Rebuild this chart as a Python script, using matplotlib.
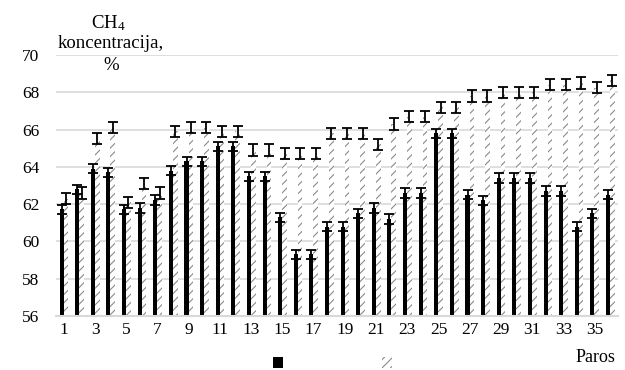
import matplotlib
matplotlib.use("Agg")
import matplotlib.pyplot as plt
import numpy as np

plt.rcParams['font.family'] = ['Liberation Serif', 'DejaVu Serif']
plt.rcParams['mathtext.default'] = 'regular'
plt.rcParams['hatch.linewidth'] = 0.8

# Samples (Paros) 1..36
paros = list(range(1, 37))
series_a = [61.73, 62.8, 63.9, 63.7, 61.73, 61.8, 62.23, 63.8, 64.3, 64.3, 65.1, 65.1,
            63.5, 63.5, 61.3, 59.3, 59.3, 60.8, 60.8, 61.5, 61.8, 61.2, 62.6, 62.6,
            65.8, 65.8, 62.5, 62.2, 63.4, 63.4, 63.4, 62.7, 62.7, 60.8, 61.5, 62.5]
series_b = [62.3, 62.6, 65.5, 66.1, 62.1, 63.1, 62.6, 65.9, 66.1, 66.1, 65.9, 65.9,
            64.9, 64.9, 64.7, 64.7, 64.7, 65.8, 65.8, 65.8, 65.2, 66.3, 66.7, 66.7,
            67.2, 67.2, 67.8, 67.8, 68.0, 68.0, 68.0, 68.4, 68.4, 68.5, 68.25, 68.65]
err_a = [0.25] * 36
err_b = [0.3] * 36
xtick_labels = [str(v) for v in range(1, 37, 2)]
yticks = [56, 58, 60, 62, 64, 66, 68, 70]

fig = plt.figure(figsize=(6.25, 3.7), dpi=100)
ax = fig.add_axes([56 / 625, 1 - 316 / 370, (618 - 56) / 625, (316 - 55) / 370])

x = np.array(paros, dtype=float)
wa, wb = 0.26, 0.30
xa = x - 0.14
xb = x + 0.14

bars_a = ax.bar(xa, series_a, width=wa, color='black', linewidth=0, zorder=2)
bars_b = ax.bar(xb, series_b, width=wb, color='white', edgecolor='#8a8a8a',
                hatch='////', linewidth=0, zorder=2)

ekw = dict(fmt='none', ecolor='black', elinewidth=1.3, capsize=3.6, capthick=1.3, zorder=3)
ax.errorbar(xa, series_a, yerr=err_a, **ekw)
ax.errorbar(xb, series_b, yerr=err_b, **ekw)

ax.set_xlim(0.5, 36.5)
ax.set_ylim(56, 70)
ax.set_yticks(yticks)
ax.set_yticklabels([str(v) for v in yticks])
ax.set_xticks(list(range(1, 37, 2)))
ax.set_xticklabels(xtick_labels)
ax.tick_params(axis='both', length=0, labelsize=12.5)
ax.tick_params(axis='y', pad=12)
ax.tick_params(axis='x', pad=4)

ax.grid(axis='y', color='#d9d9d9', linewidth=1.2, zorder=0)
ax.set_axisbelow(True)
for s in ('left', 'right', 'top'):
    ax.spines[s].set_visible(False)
ax.spines['bottom'].set_color('#d9d9d9')
ax.spines['bottom'].set_linewidth(1.5)

# Axis titles
fig.text(108 / 625, 1 - 23 / 370, 'CH$_4$', ha='center', va='center', fontsize=13.5)
fig.text(111 / 625, 1 - 43 / 370, 'koncentracija,', ha='center', va='center', fontsize=13.5)
fig.text(111 / 625, 1 - 66 / 370, '%', ha='center', va='center', fontsize=13.5)
fig.text(595 / 625, 1 - 358 / 370, 'Paros', ha='center', va='center', fontsize=13)

# Legend keys without labels
leg = fig.legend([bars_a, bars_b], [' ', ' '], ncol=2, frameon=False,
                 loc='center left', bbox_to_anchor=(273 / 625, 1 - 365 / 370),
                 borderpad=0, borderaxespad=0, handlelength=0.6, handleheight=0.6,
                 handletextpad=0.5, columnspacing=4.9, fontsize=12.5)

fig.savefig('out.png', dpi=100)
